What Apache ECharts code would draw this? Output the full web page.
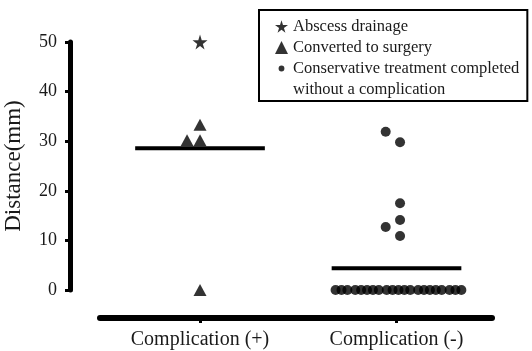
<!DOCTYPE html>
<html><head><meta charset="utf-8">
<script src="https://cdn.jsdelivr.net/npm/echarts@6/dist/echarts.min.js"></script>
<style>html,body{margin:0;padding:0;background:#fff}#c{width:532px;height:351px}</style>
</head><body><div id="c"></div>
<script>
var categories = ['Complication (+)', 'Complication (-)'];
var categoryPos = [1, 2];
var yTicks = [0, 10, 20, 30, 40, 50];
// [x position (jitter around group), distance mm]
var abscessDrainage = [[1.00, 50]];
var convertedToSurgery = [[1.00, 33.3], [0.934, 30.2], [1.00, 30.2], [1.00, 0]];
var conservativeNonZero = [[1.945, 31.9], [2.018, 29.8], [2.018, 17.5], [2.018, 14.1], [1.945, 12.7], [2.018, 10.9]];
var conservativeZeroX = [1.69, 1.72, 1.75, 1.79, 1.82, 1.85, 1.88, 1.91, 1.95, 1.98, 2.01, 2.04, 2.07, 2.11, 2.14, 2.17, 2.20, 2.23, 2.27, 2.30, 2.33];
var groupMeans = [28.6, 4.4];
var meanHalfWidth = 0.33;

var conservative = conservativeNonZero.concat(conservativeZeroX.map(function (x) { return [x, 0]; }));
var starPath = 'path://M50,0 L61,35 L98,35 L68,57 L79,91 L50,70 L21,91 L32,57 L2,35 L39,35 Z';
var smallDot = 'path://M0,0 M20,20 M10,5.5 A4.5,4.5 0 1,1 10,14.5 A4.5,4.5 0 1,1 10,5.5 Z';
var serif = 'Liberation Serif';

var meanSeries = groupMeans.map(function (m, i) {
  return {
    type: 'line', symbol: 'none', silent: true,
    data: [[categoryPos[i] - meanHalfWidth, m], [categoryPos[i] + meanHalfWidth, m]],
    lineStyle: { color: '#000', width: 4 }
  };
});

var chart = echarts.init(document.getElementById('c'));
chart.setOption({
  animation: false,
  grid: { left: 100, right: 40, top: 42, bottom: 61, containLabel: false, outerBoundsMode: 'none' },
  xAxis: {
    type: 'value', min: 0.491, max: 2.486, offset: 28,
    splitLine: { show: false },
    axisLine: { show: true, onZero: false, lineStyle: { color: '#000', width: 6 } },
    axisTick: { show: true, length: 5, lineStyle: { color: '#000', width: 3 }, customValues: categoryPos },
    axisLabel: {
      customValues: categoryPos, margin: 12,
      formatter: function (v) { var i = categoryPos.indexOf(v); return i >= 0 ? categories[i] : ''; },
      fontFamily: serif, fontSize: 20, color: '#1a1a1a'
    }
  },
  yAxis: {
    type: 'value', min: 0, max: 50, interval: 10, offset: 30,
    name: 'Distance(mm)', nameLocation: 'middle', nameGap: 45,
    nameTextStyle: { fontFamily: serif, fontSize: 23, color: '#1a1a1a' },
    splitLine: { show: false },
    axisLine: { show: true, onZero: false, lineStyle: { color: '#000', width: 5 } },
    axisTick: { show: true, length: 5, lineStyle: { color: '#000', width: 3 } },
    axisLabel: { margin: 13, fontFamily: serif, fontSize: 18, color: '#1a1a1a',
      formatter: function (v) { return yTicks.indexOf(v) >= 0 ? String(v) : ''; } }
  },
  legend: {
    orient: 'vertical', left: 259, top: 10,
    borderColor: '#000', borderWidth: 2, borderRadius: 0,
    padding: [8, 8, 3, 16], itemGap: 4, itemWidth: 13, itemHeight: 13,
    textStyle: { fontFamily: serif, fontSize: 16.5, color: '#1a1a1a' },
    selectedMode: false,
    data: [
      { name: 'Abscess drainage', icon: starPath },
      { name: 'Converted to surgery', icon: 'triangle' },
      { name: 'Conservative treatment completed', icon: smallDot },
      { name: 'without a complication', icon: 'none' }
    ]
  },
  series: [
    { name: 'Abscess drainage', type: 'scatter', symbol: starPath, symbolSize: 15,
      itemStyle: { color: '#000' }, data: abscessDrainage },
    { name: 'Converted to surgery', type: 'scatter', symbol: 'triangle', symbolSize: [13, 12],
      itemStyle: { color: '#000' }, data: convertedToSurgery },
    { name: 'Conservative treatment completed', type: 'scatter', symbol: 'circle', symbolSize: 10,
      itemStyle: { color: '#000' }, data: conservative },
    { name: 'without a complication', type: 'scatter', data: [] }
  ].concat(meanSeries)
});
</script></body></html>
